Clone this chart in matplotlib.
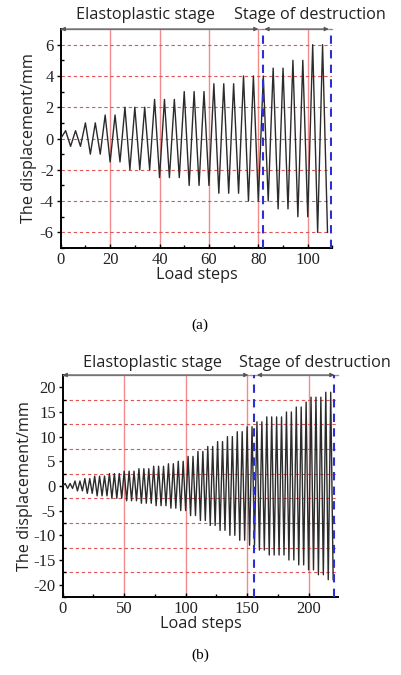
# Two-panel load-step displacement history (a) and (b), with stage markers.

import numpy as np
import matplotlib.pyplot as plt
from matplotlib.ticker import MultipleLocator
from matplotlib.transforms import blended_transform_factory

# ---- data: peak / trough of each 4-step cycle ----
peaks_a = [0.5, 0.5, 1, 1, 1.5, 1.5, 2, 2, 2, 2.5, 2.5, 2.5, 3, 3, 3,
           3.5, 3.5, 3.5, 4, 4, 4, 4.5, 4.5, 5, 5, 6, 6]
troughs_a = [-0.5, -0.5, -1, -1, -1.5, -1.5, -2, -2, -2, -2.5, -2.5, -2.5, -3, -3, -3,
             -3.5, -3.5, -3.5, -4, -4, -4, -4.5, -4.5, -5, -5, -6, -6]

peaks_b = [0.5, 0.5, 1, 1, 1.5, 1.5, 2, 2, 2, 2.5, 2.5, 2.5, 3, 3, 3,
           3.5, 3.5, 3.5, 4, 4, 4, 4.5, 4.5, 5, 5, 6, 6, 7, 7, 8, 8, 9, 9,
           10, 10, 11, 11, 12, 12, 13, 13, 14, 14, 14, 14, 15, 15, 16, 16,
           17, 18, 18, 18, 19, 19]
troughs_b = [-0.5, -0.5, -1, -1, -1.5, -1.5, -2, -2, -2, -2.5, -2.5, -2.5, -3, -3, -3,
             -3.5, -3.5, -3.5, -4, -4, -4, -4.5, -4.5, -5, -5, -6, -6, -7, -7, -8, -8,
             -9, -9, -10, -10, -11, -11, -12, -12, -13, -13, -14, -14, -14, -14,
             -15, -15, -16, -16, -17, -17, -18, -18, -19, -19]

STEPS_PER_CYCLE = 4

# stage boundaries (load steps)
stage_a = {"elasto": (0, 80), "destr": (82.5, 108.5), "box": (82, 109.5)}
stage_b = {"elasto": (0, 151), "destr": (158, 221), "box": (156, 220.5)}

grid_x_a = [20, 40, 60, 80, 100]
grid_y_a = [-6, -4, -2, 0, 2, 4, 6]
grid_x_b = [50, 100, 150, 200]
grid_y_b = [-17.5, -12.5, -7.5, -2.5, 2.5, 7.5, 12.5, 17.5]

SANS = ["Open Sans", "DejaVu Sans"]
SERIF = ["Liberation Serif", "DejaVu Serif"]
plt.rcParams["font.family"] = SERIF
plt.rcParams["axes.unicode_minus"] = False


def build_wave(peaks, troughs):
    """0 -> peak -> trough -> peak ... with straight segments."""
    x, y = [0.0], [0.0]
    for k, (p, t) in enumerate(zip(peaks, troughs)):
        x += [STEPS_PER_CYCLE * k + 2, STEPS_PER_CYCLE * k + 4]
        y += [p, t]
    return np.array(x), np.array(y)


def draw_panel(ax, peaks, troughs, stage, gx, gy, xlim, ylim, xmaj, ymaj, label_y):
    x, y = build_wave(peaks, troughs)

    for v in gx:
        ax.axvline(v, color="#f28c8c", lw=1.0, zorder=1)
    for h in gy:
        ax.axhline(h, color="#e05555", lw=0.8, ls=(0, (3, 2.5)), zorder=1)

    ax.plot(x, y, color="#2b2b2b", lw=1.0, zorder=3)

    for v in stage["box"]:
        ax.axvline(v, color="#2e2ed6", lw=1.5, ls=(0, (4, 3)), zorder=4)

    ax.set_xlim(*xlim)
    ax.set_ylim(*ylim)
    ax.xaxis.set_major_locator(MultipleLocator(xmaj))
    ax.xaxis.set_minor_locator(MultipleLocator(xmaj / 2))
    ax.yaxis.set_major_locator(MultipleLocator(ymaj))
    ax.yaxis.set_minor_locator(MultipleLocator(ymaj / 2))
    ax.tick_params(which="both", labelsize=12, width=1.0, labelcolor="#222222",
                   labelfontfamily="Liberation Serif")
    ax.tick_params(axis="y", which="major", direction="out", length=3, pad=2)
    ax.tick_params(axis="y", which="minor", direction="in", length=2.5)
    ax.tick_params(axis="x", which="major", direction="in", length=3, pad=3)
    ax.tick_params(axis="x", which="minor", direction="in", length=2.5)

    ax.spines["right"].set_visible(False)
    ax.spines["top"].set_color("#9a9a9a")
    ax.spines["top"].set_linewidth(1.0)
    ax.spines["left"].set_linewidth(1.4)
    ax.spines["bottom"].set_linewidth(1.4)

    ax.set_xlabel("Load steps", family=SANS, fontsize=11.7, labelpad=-1, color="#222222")
    ax.set_ylabel("The displacement/mm", family=SANS, fontsize=11.7, labelpad=label_y,
                  color="#222222")

    # arrow heads marking the two stages on the top edge
    tr = blended_transform_factory(ax.transData, ax.transAxes)
    for key in ("elasto", "destr"):
        x0, x1 = stage[key]
        ax.annotate("", xy=(x0, 1.0), xytext=(x1, 1.0), xycoords=tr, textcoords=tr,
                    arrowprops=dict(arrowstyle="<|-|>", color="#555555", lw=0.8,
                                    mutation_scale=6, shrinkA=0, shrinkB=0),
                    annotation_clip=False)


fig = plt.figure(figsize=(4.02, 6.75), dpi=100)

ax_a = fig.add_axes([0.151, 0.6326, 0.676, 0.3244])
draw_panel(ax_a, peaks_a, troughs_a, stage_a, grid_x_a, grid_y_a,
           (0, 110), (-7, 7), 20, 2, 2)

ax_b = fig.add_axes([0.156, 0.1156, 0.685, 0.3289])
draw_panel(ax_b, peaks_b, troughs_b, stage_b, grid_x_b, grid_y_b,
           (0, 224), (-22.5, 22.5), 50, 5, 0)

# stage titles above each panel
for xc, yc, txt in [(145, 15, "Elastoplastic stage"), (310, 15, "Stage of destruction"),
                    (153, 363, "Elastoplastic stage"), (315, 363, "Stage of destruction")]:
    fig.text(xc / 402, 1 - yc / 675, txt, family=SANS, fontsize=11.7,
             ha="center", va="center", color="#222222")

# captions
fig.text(200 / 402, 1 - 325 / 675, "(a)", fontsize=11, ha="center", va="center")
fig.text(200 / 402, 1 - 655 / 675, "(b)", fontsize=11, ha="center", va="center")

fig.savefig("out.png", dpi=100)
